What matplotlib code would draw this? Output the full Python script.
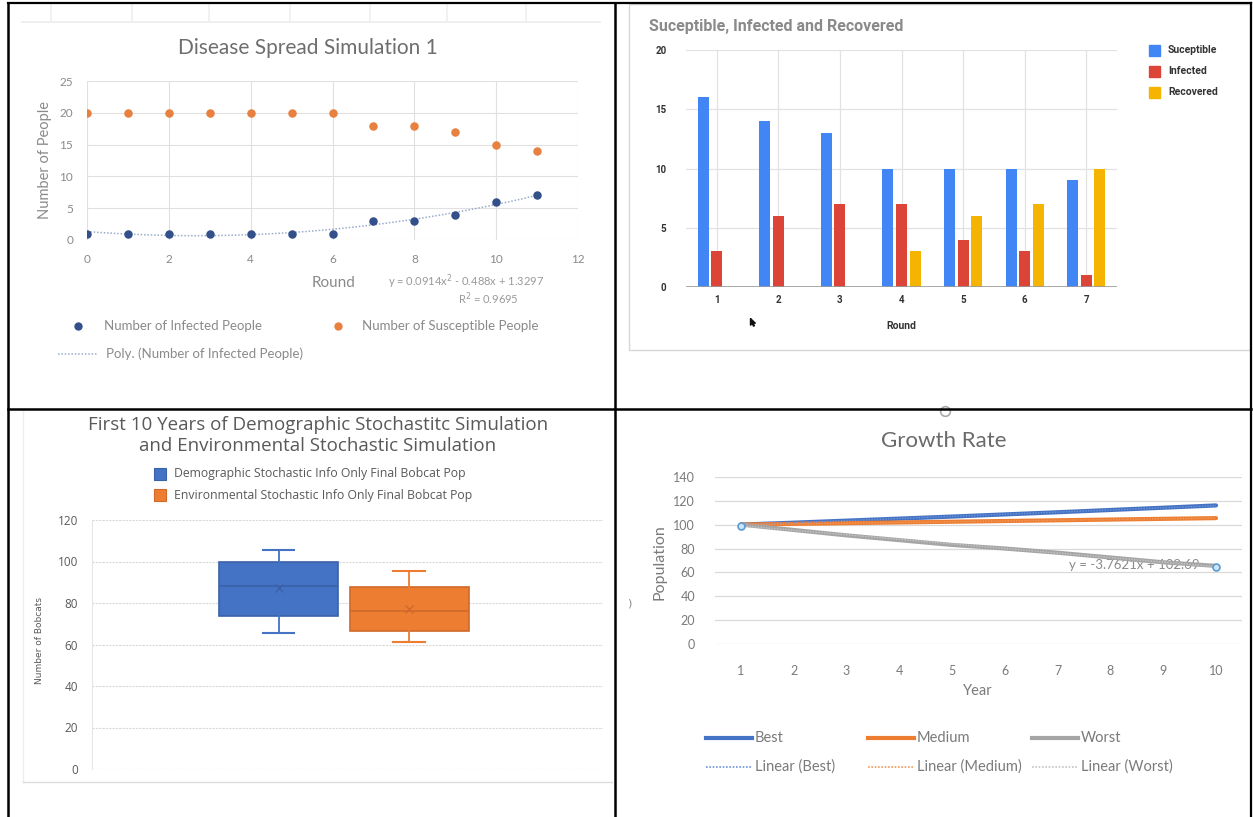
import numpy as np
import matplotlib
matplotlib.use('Agg')
import matplotlib.pyplot as plt
from matplotlib.lines import Line2D
from matplotlib.patches import Rectangle

# panel 1: disease spread scatter
rounds = np.arange(0, 12)
infected = [1, 1, 1, 1, 1, 1, 1, 3, 3, 4, 6, 7]
susceptible = [20, 20, 20, 20, 20, 20, 20, 18, 18, 17, 15, 14]

# panel 2: S/I/R bars
sir_rounds = [1, 2, 3, 4, 5, 6, 7]
sir_s = [16, 14, 13, 10, 10, 10, 9]
sir_i = [3, 6, 7, 7, 4, 3, 1]
sir_r = [0, 0, 0, 3, 6, 7, 10]

# panel 3: box plot stats
box_labels = ['Demographic Stochastic Info Only Final Bobcat Pop',
              'Environmental Stochastic Info Only Final Bobcat Pop']
box_low = [65.5, 61]
box_q1 = [73.5, 66.5]
box_med = [88, 76]
box_mean = [87, 77]
box_q3 = [100, 87.5]
box_high = [105.5, 95.5]

# panel 4: growth rate lines
years = np.arange(1, 11)
best = [100, 101.6, 103.3, 105, 106.7, 108.5, 110.3, 112.2, 114.1, 116]
medium = [100, 100.6, 101.2, 101.8, 102.4, 103, 103.6, 104.2, 104.8, 105.4]
worst = [100, 95.5, 91, 87, 83, 80, 76.5, 72.5, 68.5, 65.5]

W, H = 1253, 817
fig = plt.figure(figsize=(W / 100, H / 100), dpi=100)
fig.patch.set_facecolor('white')


def rect(x0, y0, x1, y1):
    return [x0 / W, 1 - y1 / H, (x1 - x0) / W, (y1 - y0) / H]


def ftxt(x, y, s, **kw):
    kw.setdefault('ha', 'center')
    kw.setdefault('va', 'center')
    return fig.text(x / W, 1 - y / H, s, **kw)


def fline(xs, ys, **kw):
    fig.add_artist(Line2D([x / W for x in xs], [1 - y / H for y in ys], **kw))


EXCEL = 'Lato'
GRAY = '#595959'

# ---------------- panel 1 ----------------
# faint table cells above the first chart
fline([22, 600], [22, 22], color='#ececec', lw=1.2)
for x in [51, 132, 209, 290, 370, 447, 526]:
    fline([x, x], [4, 22], color='#efefef', lw=1.2)

ax1 = fig.add_axes(rect(87, 81, 578, 240))
ax1.scatter(rounds, infected, s=26, color='#34508a', zorder=3)
ax1.scatter(rounds, susceptible, s=26, color='#e8803f', zorder=3)
coef = np.polyfit(rounds, infected, 2)
xx = np.linspace(0, 11, 100)
ax1.plot(xx, np.polyval(coef, xx), ls=(0, (1, 1.2)), color='#9aaccc', lw=1.1, zorder=2)
ax1.set_xlim(0, 12)
ax1.set_ylim(0, 25)
ax1.set_xticks(range(0, 13, 2))
ax1.set_yticks(range(0, 26, 5))
ax1.grid(color='#e0e0e0', lw=0.8)
ax1.set_axisbelow(True)
for sp in ax1.spines.values():
    sp.set_visible(False)
ax1.tick_params(length=0, labelsize=8.5, labelcolor='#8a8a8a', pad=10)
for lab in ax1.get_xticklabels() + ax1.get_yticklabels():
    lab.set_fontfamily(EXCEL)
ftxt(308, 48, 'Disease Spread Simulation 1', fontsize=15, color='#6e6e6e', family=EXCEL)
ftxt(45, 160, 'Number of People', fontsize=10.5, color='#8a8a8a', rotation=90, family=EXCEL)
ftxt(334, 283, 'Round', fontsize=11, color='#8a8a8a', family=EXCEL)
ftxt(466, 282, 'y = 0.0914x$^2$ - 0.488x + 1.3297', fontsize=8, color='#9a9a9a', family=EXCEL)
ftxt(488, 299, 'R$^2$ = 0.9695', fontsize=8, color='#9a9a9a', family=EXCEL)
fig.add_artist(Line2D([78 / W], [1 - 326 / H], marker='o', ms=5, color='#34508a'))
ftxt(104, 326, 'Number of Infected People', fontsize=9.5, color='#8a8a8a', ha='left', family=EXCEL)
fig.add_artist(Line2D([338 / W], [1 - 326 / H], marker='o', ms=5, color='#e8803f'))
ftxt(362, 326, 'Number of Susceptible People', fontsize=9.5, color='#8a8a8a', ha='left', family=EXCEL)
fline([58, 98], [354, 354], ls=(0, (1, 1.2)), color='#9aaccc', lw=1.1)
ftxt(106, 354, 'Poly. (Number of Infected People)', fontsize=9.5, color='#8a8a8a', ha='left', family=EXCEL)

# ---------------- panel 2 ----------------
fig.add_artist(Rectangle((629 / W, 1 - 350 / H), (1250 - 629) / W, (350 - 4) / H,
                         transform=fig.transFigure, fill=False, ec='#d6d6d6', lw=1))
ax2 = fig.add_axes(rect(686, 50, 1117, 287))
xs = np.array(sir_rounds)
bw = 0.18
ax2.bar(xs - 0.22, sir_s, bw, color='#4285F4', zorder=3)
ax2.bar(xs, sir_i, bw, color='#DB4437', zorder=3)
ax2.bar(xs + 0.22, sir_r, bw, color='#F4B400', zorder=3)
ax2.set_xlim(0.5, 7.5)
ax2.set_ylim(0, 20)
ax2.set_xticks(sir_rounds)
ax2.set_yticks(range(0, 21, 5))
ax2.grid(color='#e2e2e2', lw=0.9)
ax2.set_axisbelow(True)
for sp in ax2.spines.values():
    sp.set_visible(False)
ax2.axhline(0, color='#9a9a9a', lw=1.2, zorder=4)
ax2.tick_params(length=0, labelsize=7, labelcolor='#333333', pad=6)
for lab in ax2.get_xticklabels() + ax2.get_yticklabels():
    lab.set_fontweight('bold')
    lab.set_fontfamily('Roboto')
ax2.tick_params(axis='y', pad=14)
ftxt(649, 26, 'Suceptible, Infected and Recovered', fontsize=11.5, color='#8a8a8a', ha='left',
     family='Roboto', fontweight='bold')
ftxt(901, 326, 'Round', fontsize=7.5, color='#333333', fontweight='bold', family='Roboto')
for yy, c, t in [(50, '#4285F4', 'Suceptible'), (71, '#DB4437', 'Infected'), (92, '#F4B400', 'Recovered')]:
    fig.add_artist(Rectangle(((1149) / W, 1 - (yy + 5.5) / H), 11 / W, 11 / H,
                             transform=fig.transFigure, color=c))
    ftxt(1168, yy, t, fontsize=7.5, color='#333333', ha='left', fontweight='bold', family='Roboto')
# mouse cursor
cursor = [(0, 0), (0, -1), (0.27, -0.76), (0.45, -1.15), (0.58, -1.09), (0.41, -0.7), (0.72, -0.7), (0, 0)]
fig.add_artist(Line2D([750 / W], [1 - 318 / H], marker=cursor, ms=11, color='#111111'))

# ---------------- panel 3 ----------------
fline([23, 23], [411, 782], color='#ededed', lw=1)
fline([23, 612], [782, 782], color='#dcdcdc', lw=1)
ax3 = fig.add_axes(rect(92, 520, 603, 769))
colors3 = ['#4472C4', '#ED7D31']
edges3 = ['#3a62a8', '#d0692a']
stats = []
for i in range(2):
    stats.append(dict(whislo=box_low[i], q1=box_q1[i], med=box_med[i], mean=box_mean[i],
                      q3=box_q3[i], whishi=box_high[i], fliers=[], label=box_labels[i]))
pos3 = [0.365, 0.621]
for i in range(2):
    ax3.bxp([stats[i]], positions=[pos3[i]], widths=0.233, patch_artist=True, showmeans=True,
            capwidths=0.062,
            boxprops=dict(facecolor=colors3[i], edgecolor=edges3[i], lw=1.2),
            medianprops=dict(color=edges3[i], lw=1.2),
            whiskerprops=dict(color=colors3[i], lw=1.3),
            capprops=dict(color=colors3[i], lw=1.5),
            meanprops=dict(marker='x', markeredgecolor=edges3[i], ms=6, mew=1))
ax3.set_xlim(0, 1)
ax3.set_ylim(0, 120)
ax3.set_yticks(range(0, 121, 20))
ax3.set_xticks([])
ax3.yaxis.grid(True, color='#d9d9d9', lw=0.8, ls=(0, (2, 1)))
ax3.set_axisbelow(True)
for sp in ax3.spines.values():
    sp.set_visible(False)
ax3.spines['left'].set_visible(True)
ax3.spines['left'].set_color('#e6e6e6')
ax3.tick_params(length=0, labelsize=8.5, labelcolor=GRAY, pad=10)
for lab in ax3.get_yticklabels():
    lab.set_fontfamily('Open Sans')
ftxt(318, 425, 'First 10 Years of Demographic Stochastitc Simulation', fontsize=13.5,
     color=GRAY, family='Open Sans')
ftxt(318, 446, 'and Environmental Stochastic Simulation', fontsize=13.5, color=GRAY, family='Open Sans')
ftxt(40, 641, 'Number of Bobcats', fontsize=6.5, color=GRAY, rotation=90, family='Liberation Sans Narrow')
for yy, i in [(474, 0), (495, 1)]:
    fig.add_artist(Rectangle((154 / W, 1 - (yy + 6) / H), 12 / W, 12 / H, transform=fig.transFigure,
                             fc=colors3[i], ec=edges3[i], lw=0.8))
    ftxt(174, yy, box_labels[i], fontsize=8.8, color=GRAY, ha='left', family='Open Sans')

# ---------------- panel 4 ----------------
ax4 = fig.add_axes(rect(714.6, 476.7, 1242.4, 644.3))
ax4.plot(years, best, color='#4472C4', lw=3, solid_capstyle='round', zorder=3)
ax4.plot(years, medium, color='#ED7D31', lw=3, solid_capstyle='round', zorder=3)
ax4.plot(years, worst, color='#A5A5A5', lw=3, solid_capstyle='round', zorder=3)
trend_cols = ['#6f93d6', '#f09a5e', '#c4c4c4']
for ser, c in zip([best, medium, worst], trend_cols):
    k = np.polyfit(years, ser, 1)
    ax4.plot(years, np.polyval(k, years), ls=(0, (1, 1)), color=c, lw=1, zorder=4)
kw = np.polyfit(years, worst, 1)
ax4.plot([years[0], years[-1]], np.polyval(kw, [years[0], years[-1]]), ls='none', marker='o',
         ms=5, mfc='#cfe3f7', mec='#5b9bd5', mew=1.2, zorder=5)
ax4.text(9.69, 66.2, 'y = -3.7621x + 102.69', fontsize=9.5, color='#8a8a8a', ha='right', va='center',
         family=EXCEL, zorder=2)
ax4.set_xlim(0.5, 10.5)
ax4.set_ylim(0, 140)
ax4.set_xticks(years)
ax4.set_yticks(range(0, 141, 20))
ax4.yaxis.grid(True, color='#d9d9d9', lw=0.9)
ax4.set_axisbelow(True)
for sp in ax4.spines.values():
    sp.set_visible(False)
ax4.tick_params(length=0, labelsize=9, labelcolor='#7a7a7a', pad=14)
ax4.tick_params(axis='x', pad=15)
for lab in ax4.get_xticklabels() + ax4.get_yticklabels():
    lab.set_fontfamily(EXCEL)
ftxt(944, 441, 'Growth Rate', fontsize=16, color='#6a6a6a', family=EXCEL)
ftxt(660, 562, 'Population', fontsize=11.5, color='#7a7a7a', rotation=90, family=EXCEL)
ftxt(978, 691, 'Year', fontsize=10.5, color='#7a7a7a', family=EXCEL)
leg4 = [('Best', 'Linear (Best)', '#4472C4', trend_cols[0], 706),
        ('Medium', 'Linear (Medium)', '#ED7D31', trend_cols[1], 868),
        ('Worst', 'Linear (Worst)', '#A5A5A5', trend_cols[2], 1032)]
for t1, t2, c1, c2, x0 in leg4:
    fline([x0, x0 + 46], [738, 738], color=c1, lw=3)
    ftxt(x0 + 49, 738, t1, fontsize=10.5, color='#7a7a7a', ha='left', family=EXCEL)
    fline([x0, x0 + 46], [767, 767], color=c2, lw=1.2, ls=(0, (1, 1)))
    ftxt(x0 + 49, 767, t2, fontsize=10.5, color='#7a7a7a', ha='left', family=EXCEL)
# chart selection handles peeking in
fig.add_artist(Line2D([945 / W], [1 - 411 / H], marker='o', ms=7, mfc='white', mec='#aaaaaa', mew=1.2))
ftxt(629, 603, ')', fontsize=8, color='#888888')

# ---------------- black table borders ----------------
fline([8, 1251], [3, 3], color='black', lw=1.6)
fline([8, 8], [3, 817], color='black', lw=1.8)
fline([615, 615], [3, 817], color='black', lw=1.8)
fline([8, 1251], [409, 409], color='black', lw=1.8)
fline([1251, 1251], [3, 817], color='black', lw=1.6)

fig.savefig('out.png', dpi=100, facecolor='white')
